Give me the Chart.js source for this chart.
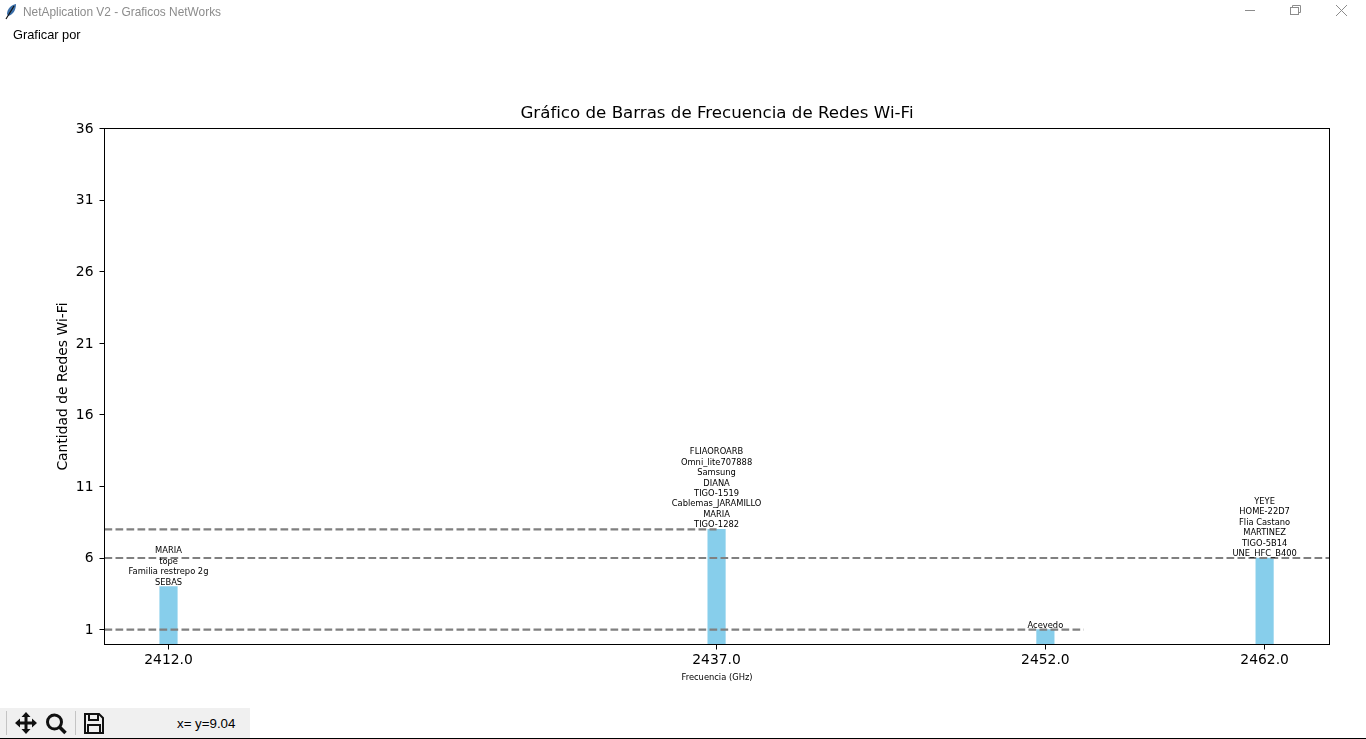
<!DOCTYPE html>
<html lang="es">
<head>
<meta charset="utf-8">
<title>NetAplication V2 - Graficos NetWorks</title>
<script src="https://cdn.jsdelivr.net/npm/chart.js@4"></script>
<style>
html,body{margin:0;padding:0;background:#fff;width:1366px;height:739px;overflow:hidden}
#chart{position:absolute;left:0;top:0}
.ui{position:absolute;font-family:"Liberation Sans",Arial,sans-serif;font-size:12px;white-space:nowrap}
#wtitle{left:23px;top:5px;color:#8c8c8c;font-size:11.9px}
#menu{left:13px;top:27px;color:#000;font-size:12.8px}
#bar{position:absolute;left:0;top:708px;width:250px;height:30px;background:#f0f0f0}
#line{position:absolute;left:0;top:738px;width:1366px;height:1px;background:#000}
#coord{left:177px;top:716px;color:#000;font-size:13.3px}
svg{position:absolute}
</style>
</head>
<body>
<canvas id="chart" width="1366" height="739"></canvas>

<svg style="left:4px;top:3px" width="14" height="17" viewBox="0 0 14 17"><path d="M12 1C7 2 3 6 3 11l1 2C9 12 12 7 12 1z" fill="#3a6ea8"/><path d="M10 3L2 16" stroke="#111" stroke-width="1.2" fill="none"/></svg>
<div class="ui" id="wtitle">NetAplication V2 - Graficos NetWorks</div>
<svg style="left:1240px;top:0" width="120" height="20" fill="none" stroke="#8c8c8c" stroke-width="1">
  <path d="M5 10.5H15"/>
  <rect x="50.5" y="7.5" width="8" height="7"/><path d="M52.5 7.5V5.5H60.5V12.5H58.5"/>
  <path d="M96 5L107 16M107 5L96 16"/>
</svg>
<div class="ui" id="menu">Graficar por</div>

<div id="bar"></div>
<div id="line"></div>
<svg style="left:0;top:708px" width="120" height="30">
  <path d="M6.5 3V27M75.5 3V27" stroke="#c4c4c4" stroke-width="1"/>
  <g fill="#111"><path d="M26 4l4.5 5h-3v4.500h4.500v-3l5 4.500-5 4.500v-3h-4.500v4.500h3L26 26l-4.500-5h3v-4.500H20v3l-5-4.500 5-4.500v3h4.500V9h-3z"/></g>
  <circle cx="54.500" cy="14" r="7" fill="none" stroke="#111" stroke-width="3"/>
  <path d="M59.500 19l6 6" stroke="#111" stroke-width="3.500"/>
  <g fill="none" stroke="#111" stroke-width="2"><path d="M85 6h14l4 4v15H85z"/><path d="M89 6v6h9V6M88 25v-8h12v8"/></g>
</svg>
<div class="ui" id="coord">x= y=9.04</div>

<script>
const chartTitle = "Gráfico de Barras de Frecuencia de Redes Wi-Fi";
const xAxisTitle = "Frecuencia (GHz)";
const yAxisTitle = "Cantidad de Redes Wi-Fi";
const frequencies = [2412, 2437, 2452, 2462];
const counts = [4, 8, 1, 6];
const networkNames = [
  ["MARIA", "tope", "Familia restrepo 2g", "SEBAS"],
  ["FLIAOROARB", "Omni_lite707888", "Samsung", "DIANA", "TIGO-1519", "Cablemas_JARAMILLO", "MARIA", "TIGO-1282"],
  ["Acevedo"],
  ["YEYE", "HOME-22D7", "Flia Castano", "MARTINEZ", "TIGO-5B14", "UNE_HFC_B400"]
];
const yTicks = [1, 6, 11, 16, 21, 26, 31, 36];
const xRange = [2409.08, 2464.96];
const yRange = [-0.04, 36];
const refLevels = [8, 6, 1];
const refLineEnds = [2437, 2464.96, 2453.75];

const FONT = "'DejaVu Sans'";

const barLabels = {
  id: "barLabels",
  afterDatasetsDraw(chart) {
    const { ctx, scales: { x, y } } = chart;
    ctx.save();
    ctx.font = "8.33px " + FONT;
    ctx.fillStyle = "#000";
    ctx.textAlign = "center";
    ctx.textBaseline = "alphabetic";
    frequencies.forEach((f, i) => {
      const lines = networkNames[i];
      const px = x.getPixelForValue(f);
      const base = y.getPixelForValue(counts[i]);
      lines.forEach((t, k) => {
        ctx.fillText(t, px, base - 2 - (lines.length - 1 - k) * 10.45);
      });
    });
    ctx.restore();
  }
};
const frameBox = {
  id: "frameBox",
  afterDraw(chart) {
    const { ctx, chartArea: a } = chart;
    ctx.save();
    ctx.strokeStyle = "#000";
    ctx.lineWidth = 1;
    ctx.strokeRect(a.left, a.top, a.right - a.left, a.bottom - a.top);
    ctx.restore();
  }
};

const refDatasets = refLevels.map((lvl, i) => ({
  type: "line",
  data: [{ x: xRange[0], y: lvl }, { x: refLineEnds[i], y: lvl }],
  borderColor: "#808080",
  borderWidth: 2.08,
  borderDash: [7.7, 3.3],
  pointRadius: 0,
  fill: false,
  order: 0
}));

new Chart(document.getElementById("chart"), {
  type: "bar",
  data: {
    datasets: [{
      type: "bar",
      data: frequencies.map((f, i) => ({ x: f, y: counts[i] })),
      backgroundColor: "#87CEEB",
      barThickness: 17.5,
      base: 0,
      order: 1
    }, ...refDatasets]
  },
  plugins: [barLabels, frameBox],
  options: {
    responsive: false,
    animation: false,
    devicePixelRatio: 1,
    events: [],
    layout: { padding: { left: 0, right: 36.5, top: 0, bottom: 0 } },
    plugins: {
      legend: { display: false },
      tooltip: { enabled: false },
      title: {
        display: true,
        fullSize: false,
        text: chartTitle,
        color: "#000",
        font: { family: FONT, size: 16.67, weight: "normal", lineHeight: 1.2 },
        padding: { top: 104, bottom: 4.5 }
      }
    },
    scales: {
      x: {
        type: "linear",
        offset: false,
        min: xRange[0],
        max: xRange[1],
        grid: { offset: false, drawOnChartArea: false, drawTicks: true, tickLength: 5, tickColor: "#000", tickWidth: 1 },
        border: { color: "#000", width: 1 },
        afterBuildTicks(s) { s.ticks = frequencies.map(v => ({ value: v })); },
        afterFit(s) { s.height = 94.5; },
        ticks: {
          color: "#000",
          autoSkip: false,
          maxRotation: 0,
          padding: 3,
          font: { family: FONT, size: 13.89 },
          callback: v => Number(v).toFixed(1)
        },
        title: {
          display: true,
          text: xAxisTitle,
          color: "#000",
          font: { family: FONT, size: 8.33 },
          padding: { top: 0, bottom: 56 }
        }
      },
      y: {
        type: "linear",
        min: yRange[0],
        max: yRange[1],
        grid: { drawOnChartArea: false, drawTicks: true, tickLength: 5, tickColor: "#000", tickWidth: 1 },
        border: { color: "#000", width: 1 },
        afterBuildTicks(s) { s.ticks = yTicks.map(v => ({ value: v })); },
        afterFit(s) { s.width = 104.5; },
        ticks: {
          color: "#000",
          autoSkip: false,
          padding: 6,
          labelOffset: 0.8,
          font: { family: FONT, size: 13.89 },
          callback: v => String(v)
        },
        title: {
          display: true,
          text: yAxisTitle,
          color: "#000",
          font: { family: FONT, size: 13.89 },
          padding: { top: 55, bottom: 0 }
        }
      }
    }
  }
});
</script>
</body>
</html>
